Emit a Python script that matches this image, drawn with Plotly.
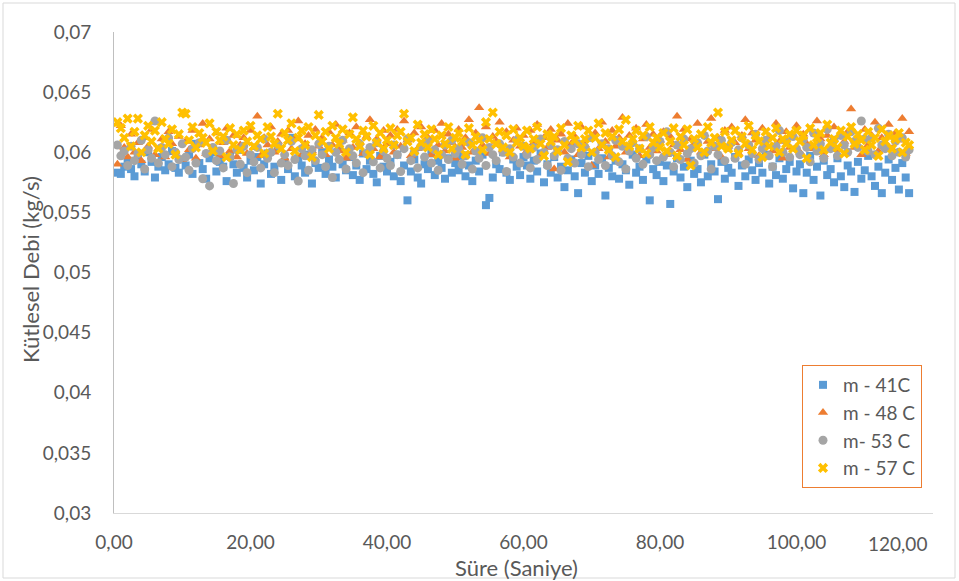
import plotly.graph_objects as go

# Sampling times (s), one reading every half second
time_s = [round(0.5 * i, 1) for i in range(1, 234)]

m_41C = [
    0.0583, 0.0582, 0.0588, 0.0593, 0.0586, 0.0580, 0.0595, 0.0590, 0.0584, 0.0600, 0.0592, 0.0579, 0.0588, 0.0596, 0.0585, 0.0590, 0.0601, 0.0587, 0.0583, 0.0594,
    0.0589, 0.0598, 0.0582, 0.0607, 0.0591, 0.0586, 0.0578, 0.0595, 0.0600, 0.0584, 0.0592, 0.0588, 0.0576, 0.0597, 0.0590, 0.0583, 0.0602, 0.0587, 0.0579, 0.0593,
    0.0585, 0.0596, 0.0574, 0.0590, 0.0599, 0.0582, 0.0588, 0.0604, 0.0577, 0.0592, 0.0586, 0.0612, 0.0580, 0.0595, 0.0589, 0.0583, 0.0598, 0.0574, 0.0591, 0.0587,
    0.0600, 0.0582, 0.0594, 0.0588, 0.0579, 0.0603, 0.0590, 0.0585, 0.0596, 0.0581, 0.0589, 0.0577, 0.0599, 0.0586, 0.0593, 0.0582, 0.0575, 0.0597, 0.0588, 0.0584,
    0.0592, 0.0580, 0.0598, 0.0576, 0.0589, 0.0560, 0.0584, 0.0594, 0.0579, 0.0574, 0.0590, 0.0586, 0.0599, 0.0581, 0.0593, 0.0587, 0.0578, 0.0595, 0.0583, 0.0591,
    0.0585, 0.0597, 0.0580, 0.0589, 0.0576, 0.0593, 0.0584, 0.0598, 0.0556, 0.0562, 0.0579, 0.0590, 0.0586, 0.0600, 0.0583, 0.0577, 0.0594, 0.0588, 0.0581, 0.0596,
    0.0589, 0.0578, 0.0593, 0.0584, 0.0599, 0.0575, 0.0590, 0.0583, 0.0596, 0.0579, 0.0588, 0.0571, 0.0585, 0.0594, 0.0580, 0.0566, 0.0591, 0.0583, 0.0597, 0.0576,
    0.0589, 0.0582, 0.0595, 0.0564, 0.0587, 0.0580, 0.0593, 0.0578, 0.0590, 0.0585, 0.0573, 0.0598, 0.0583, 0.0588, 0.0577, 0.0594, 0.0560, 0.0586, 0.0581, 0.0592,
    0.0576, 0.0589, 0.0557, 0.0584, 0.0595, 0.0579, 0.0588, 0.0571, 0.0593, 0.0582, 0.0586, 0.0575, 0.0598, 0.0580, 0.0590, 0.0584, 0.0561, 0.0592, 0.0578, 0.0587,
    0.0583, 0.0596, 0.0572, 0.0589, 0.0580, 0.0594, 0.0585, 0.0577, 0.0591, 0.0583, 0.0598, 0.0574, 0.0588, 0.0581, 0.0595, 0.0578, 0.0586, 0.0592, 0.0570, 0.0584,
    0.0590, 0.0566, 0.0583, 0.0597, 0.0577, 0.0588, 0.0564, 0.0593, 0.0581, 0.0586, 0.0575, 0.0595, 0.0580, 0.0571, 0.0589, 0.0584, 0.0567, 0.0592, 0.0578, 0.0585,
    0.0597, 0.0580, 0.0572, 0.0588, 0.0566, 0.0583, 0.0594, 0.0577, 0.0587, 0.0569, 0.0591, 0.0579, 0.0566,
]

m_48C = [
    0.0590, 0.0622, 0.0604, 0.0596, 0.0615, 0.0600, 0.0608, 0.0593, 0.0612, 0.0605, 0.0619, 0.0598, 0.0603, 0.0611, 0.0596, 0.0617, 0.0607, 0.0600, 0.0613, 0.0594,
    0.0609, 0.0602, 0.0618, 0.0595, 0.0606, 0.0624, 0.0599, 0.0611, 0.0603, 0.0616, 0.0597, 0.0608, 0.0620, 0.0601, 0.0614, 0.0596, 0.0606, 0.0612, 0.0599, 0.0618,
    0.0604, 0.0630, 0.0597, 0.0612, 0.0606, 0.0621, 0.0600, 0.0609, 0.0615, 0.0595, 0.0618, 0.0603, 0.0611, 0.0626, 0.0598, 0.0607, 0.0614, 0.0601, 0.0619, 0.0605,
    0.0612, 0.0598, 0.0617, 0.0606, 0.0623, 0.0601, 0.0610, 0.0595, 0.0616, 0.0604, 0.0621, 0.0608, 0.0599, 0.0613, 0.0627, 0.0603, 0.0611, 0.0596, 0.0618, 0.0607,
    0.0614, 0.0600, 0.0619, 0.0605, 0.0626, 0.0610, 0.0597, 0.0616, 0.0603, 0.0621, 0.0609, 0.0612, 0.0598, 0.0618, 0.0606, 0.0624, 0.0601, 0.0615, 0.0608, 0.0595,
    0.0619, 0.0604, 0.0612, 0.0627, 0.0600, 0.0616, 0.0637, 0.0606, 0.0621, 0.0599, 0.0613, 0.0609, 0.0625, 0.0602, 0.0617, 0.0596, 0.0610, 0.0620, 0.0605, 0.0614,
    0.0601, 0.0618, 0.0608, 0.0623, 0.0597, 0.0612, 0.0604, 0.0619, 0.0586, 0.0610, 0.0615, 0.0600, 0.0624, 0.0607, 0.0613, 0.0598, 0.0621, 0.0606, 0.0611, 0.0589,
    0.0616, 0.0603, 0.0625, 0.0609, 0.0596, 0.0618, 0.0605, 0.0612, 0.0629, 0.0600, 0.0614, 0.0608, 0.0620, 0.0597, 0.0611, 0.0623, 0.0604, 0.0615, 0.0601, 0.0610,
    0.0617, 0.0598, 0.0613, 0.0606, 0.0630, 0.0602, 0.0619, 0.0594, 0.0611, 0.0607, 0.0624, 0.0600, 0.0615, 0.0609, 0.0628, 0.0603, 0.0612, 0.0596, 0.0618, 0.0605,
    0.0621, 0.0608, 0.0599, 0.0614, 0.0627, 0.0603, 0.0616, 0.0610, 0.0597, 0.0620, 0.0606, 0.0613, 0.0601, 0.0624, 0.0609, 0.0595, 0.0617, 0.0604, 0.0612, 0.0622,
    0.0600, 0.0615, 0.0607, 0.0619, 0.0603, 0.0626, 0.0611, 0.0598, 0.0614, 0.0606, 0.0621, 0.0602, 0.0613, 0.0609, 0.0617, 0.0636, 0.0604, 0.0611, 0.0598, 0.0619,
    0.0606, 0.0614, 0.0625, 0.0601, 0.0612, 0.0608, 0.0623, 0.0603, 0.0616, 0.0610, 0.0628, 0.0599, 0.0617,
]

m_53C = [
    0.0606, 0.0597, 0.0601, 0.0589, 0.0605, 0.0593, 0.0599, 0.0610, 0.0586, 0.0602, 0.0595, 0.0626, 0.0591, 0.0604, 0.0598, 0.0612, 0.0588, 0.0600, 0.0594, 0.0607,
    0.0596, 0.0585, 0.0603, 0.0591, 0.0608, 0.0578, 0.0599, 0.0572, 0.0604, 0.0593, 0.0601, 0.0587, 0.0610, 0.0596, 0.0574, 0.0602, 0.0590, 0.0605, 0.0583, 0.0598,
    0.0592, 0.0604, 0.0587, 0.0611, 0.0595, 0.0600, 0.0583, 0.0606, 0.0591, 0.0598, 0.0589, 0.0609, 0.0594, 0.0576, 0.0603, 0.0597, 0.0585, 0.0602, 0.0593, 0.0607,
    0.0598, 0.0588, 0.0605, 0.0579, 0.0600, 0.0594, 0.0610, 0.0586, 0.0603, 0.0597, 0.0591, 0.0607, 0.0583, 0.0599, 0.0604, 0.0592, 0.0608, 0.0587, 0.0601, 0.0595,
    0.0589, 0.0606, 0.0598, 0.0584, 0.0603, 0.0611, 0.0593, 0.0600, 0.0587, 0.0605, 0.0596, 0.0609, 0.0591, 0.0602, 0.0585, 0.0598, 0.0606, 0.0594, 0.0610, 0.0599,
    0.0603, 0.0590, 0.0597, 0.0608, 0.0586, 0.0601, 0.0595, 0.0612, 0.0589, 0.0604, 0.0598, 0.0593, 0.0607, 0.0600, 0.0584, 0.0603, 0.0596, 0.0610, 0.0591, 0.0605,
    0.0598, 0.0587, 0.0604, 0.0594, 0.0611, 0.0600, 0.0589, 0.0606, 0.0597, 0.0602, 0.0585, 0.0609, 0.0595, 0.0603, 0.0591, 0.0607, 0.0598, 0.0604, 0.0588, 0.0612,
    0.0600, 0.0594, 0.0607, 0.0589, 0.0603, 0.0597, 0.0610, 0.0592, 0.0605, 0.0586, 0.0601, 0.0608, 0.0595, 0.0603, 0.0590, 0.0613, 0.0598, 0.0604, 0.0593, 0.0609,
    0.0596, 0.0617, 0.0600, 0.0588, 0.0606, 0.0594, 0.0611, 0.0599, 0.0603, 0.0591, 0.0608, 0.0597, 0.0614, 0.0601, 0.0586, 0.0605, 0.0598, 0.0610, 0.0593, 0.0604,
    0.0608, 0.0595, 0.0602, 0.0612, 0.0590, 0.0606, 0.0599, 0.0615, 0.0594, 0.0603, 0.0610, 0.0597, 0.0588, 0.0605, 0.0618, 0.0600, 0.0609, 0.0596, 0.0613, 0.0603,
    0.0598, 0.0611, 0.0604, 0.0592, 0.0616, 0.0601, 0.0607, 0.0595, 0.0619, 0.0603, 0.0610, 0.0597, 0.0614, 0.0606, 0.0600, 0.0617, 0.0609, 0.0604, 0.0626, 0.0611,
    0.0601, 0.0612, 0.0598, 0.0620, 0.0606, 0.0603, 0.0615, 0.0597, 0.0609, 0.0600, 0.0612, 0.0596, 0.0602,
]

m_57C = [
    0.0625, 0.0620, 0.0612, 0.0628, 0.0605, 0.0617, 0.0628, 0.0600, 0.0614, 0.0622, 0.0609, 0.0618, 0.0603, 0.0625, 0.0611, 0.0607, 0.0619, 0.0598, 0.0615, 0.0633,
    0.0632, 0.0610, 0.0621, 0.0604, 0.0616, 0.0612, 0.0608, 0.0624, 0.0601, 0.0617, 0.0610, 0.0613, 0.0596, 0.0620, 0.0606, 0.0615, 0.0602, 0.0618, 0.0609, 0.0622,
    0.0605, 0.0614, 0.0611, 0.0599, 0.0621, 0.0613, 0.0607, 0.0632, 0.0603, 0.0616, 0.0610, 0.0624, 0.0601, 0.0612, 0.0618, 0.0606, 0.0621, 0.0596, 0.0614, 0.0631,
    0.0609, 0.0617, 0.0603, 0.0622, 0.0612, 0.0607, 0.0619, 0.0600, 0.0615, 0.0629, 0.0611, 0.0605, 0.0618, 0.0613, 0.0598, 0.0622, 0.0608, 0.0616, 0.0603, 0.0610,
    0.0620, 0.0606, 0.0614, 0.0617, 0.0632, 0.0609, 0.0612, 0.0601, 0.0623, 0.0608, 0.0615, 0.0604, 0.0619, 0.0611, 0.0598, 0.0614, 0.0607, 0.0621, 0.0603, 0.0612,
    0.0616, 0.0609, 0.0598, 0.0620, 0.0606, 0.0613, 0.0610, 0.0602, 0.0625, 0.0611, 0.0633, 0.0607, 0.0617, 0.0604, 0.0614, 0.0600, 0.0619, 0.0608, 0.0612, 0.0605,
    0.0618, 0.0603, 0.0611, 0.0621, 0.0607, 0.0597, 0.0615, 0.0609, 0.0613, 0.0601, 0.0620, 0.0606, 0.0592, 0.0614, 0.0610, 0.0622, 0.0604, 0.0611, 0.0618, 0.0600,
    0.0612, 0.0624, 0.0606, 0.0616, 0.0602, 0.0613, 0.0596, 0.0619, 0.0609, 0.0627, 0.0605, 0.0611, 0.0618, 0.0603, 0.0614, 0.0599, 0.0621, 0.0608, 0.0612, 0.0604,
    0.0616, 0.0601, 0.0609, 0.0620, 0.0597, 0.0613, 0.0606, 0.0619, 0.0589, 0.0611, 0.0604, 0.0615, 0.0600, 0.0621, 0.0608, 0.0612, 0.0633, 0.0605, 0.0617, 0.0603,
    0.0610, 0.0618, 0.0599, 0.0613, 0.0607, 0.0622, 0.0602, 0.0614, 0.0609, 0.0596, 0.0617, 0.0605, 0.0612, 0.0620, 0.0600, 0.0611, 0.0607, 0.0615, 0.0603, 0.0618,
    0.0609, 0.0614, 0.0595, 0.0620, 0.0606, 0.0612, 0.0616, 0.0602, 0.0623, 0.0608, 0.0611, 0.0604, 0.0618, 0.0599, 0.0613, 0.0621, 0.0607, 0.0615, 0.0610, 0.0602,
    0.0617, 0.0606, 0.0612, 0.0597, 0.0619, 0.0609, 0.0614, 0.0603, 0.0611, 0.0616, 0.0600, 0.0608, 0.0606,
]

series_names = ["m - 41C", "m - 48 C", "m- 53 C", "m - 57 C"]
series_values = [m_41C, m_48C, m_53C, m_57C]

x_tick_vals = [0, 20, 40, 60, 80, 100, 120]
x_tick_text = ["0,00", "20,00", "40,00", "60,00", "80,00", "100,00", "120,00"]
y_tick_vals = [0.03, 0.035, 0.04, 0.045, 0.05, 0.055, 0.06, 0.065, 0.07]
y_tick_text = ["0,03", "0,035", "0,04", "0,045", "0,05", "0,055", "0,06", "0,065", "0,07"]

x_title = "Süre (Saniye)"
y_title = "Kütlesel Debi (kg/s)"

# Styling
W, H = 959, 581
ML, MR, MT, MB = 114, 26, 32, 68
PW, PH = W - ML - MR, H - MT - MB
FONT = "Lato, 'Open Sans', sans-serif"
TXT = "#595959"
TICK_SIZE = 19
TITLE_SIZE = 22
styles = [
    dict(symbol="square", color="#5B9BD5", size=8),
    dict(symbol="triangle-up", color="#ED7D31", size=9),
    dict(symbol="circle", color="#A5A5A5", size=9),
    dict(symbol="x", color="#FFC000", size=9),
]


def px_x(p):
    return (p - ML) / PW


def px_y(p):
    return (H - MB - p) / PH


fig = go.Figure()
for name, vals, st in zip(series_names, series_values, styles):
    fig.add_trace(go.Scatter(
        x=time_s, y=vals, mode="markers", name=name,
        marker=dict(symbol=st["symbol"], color=st["color"], size=st["size"],
                    line=dict(width=0)),
    ))

fig.update_layout(
    width=W, height=H,
    margin=dict(l=ML, r=MR, t=MT, b=MB),
    paper_bgcolor="white", plot_bgcolor="white",
    font=dict(family=FONT, color=TXT, size=TICK_SIZE),
    showlegend=True,
    legend=dict(
        x=px_x(802), y=px_y(365), xanchor="left", yanchor="top",
        bordercolor="#ED7D31", borderwidth=1, bgcolor="white",
        font=dict(family=FONT, size=19, color=TXT),
        itemsizing="trace", tracegroupgap=0,
    ),
    xaxis=dict(
        range=[0, 120], tickvals=x_tick_vals,
        ticktext=x_tick_text[:-1] + [""],
        showgrid=False, zeroline=False, showline=True, linecolor="#D9D9D9",
        linewidth=1, ticks="", ticklabelstandoff=12,
        tickfont=dict(family=FONT, size=TICK_SIZE, color=TXT),
    ),
    yaxis=dict(
        range=[0.03, 0.07], tickvals=y_tick_vals, ticktext=y_tick_text,
        showgrid=False, zeroline=False, showline=True, linecolor="#BFBFBF",
        linewidth=1, ticks="", ticklabelstandoff=18,
        tickfont=dict(family=FONT, size=TICK_SIZE, color=TXT),
    ),
    shapes=[dict(
        type="rect", xref="paper", yref="paper", layer="below",
        x0=px_x(3), x1=px_x(955), y0=px_y(578), y1=px_y(3),
        line=dict(color="#D9D9D9", width=1),
    )],
    annotations=[
        dict(text=x_tick_text[-1], xref="paper", yref="paper",
             x=px_x(929), y=px_y(543), xanchor="right", yanchor="middle",
             showarrow=False, font=dict(family=FONT, size=TICK_SIZE, color=TXT)),
        dict(text=x_title, xref="paper", yref="paper",
             x=px_x(516), y=px_y(567), xanchor="center", yanchor="middle",
             showarrow=False, font=dict(family=FONT, size=TITLE_SIZE, color=TXT)),
        dict(text=y_title, xref="paper", yref="paper", textangle=-90,
             x=px_x(30), y=px_y(270), xanchor="center", yanchor="middle",
             showarrow=False, font=dict(family=FONT, size=TITLE_SIZE, color=TXT)),
    ],
)

fig.write_html("out.html")
